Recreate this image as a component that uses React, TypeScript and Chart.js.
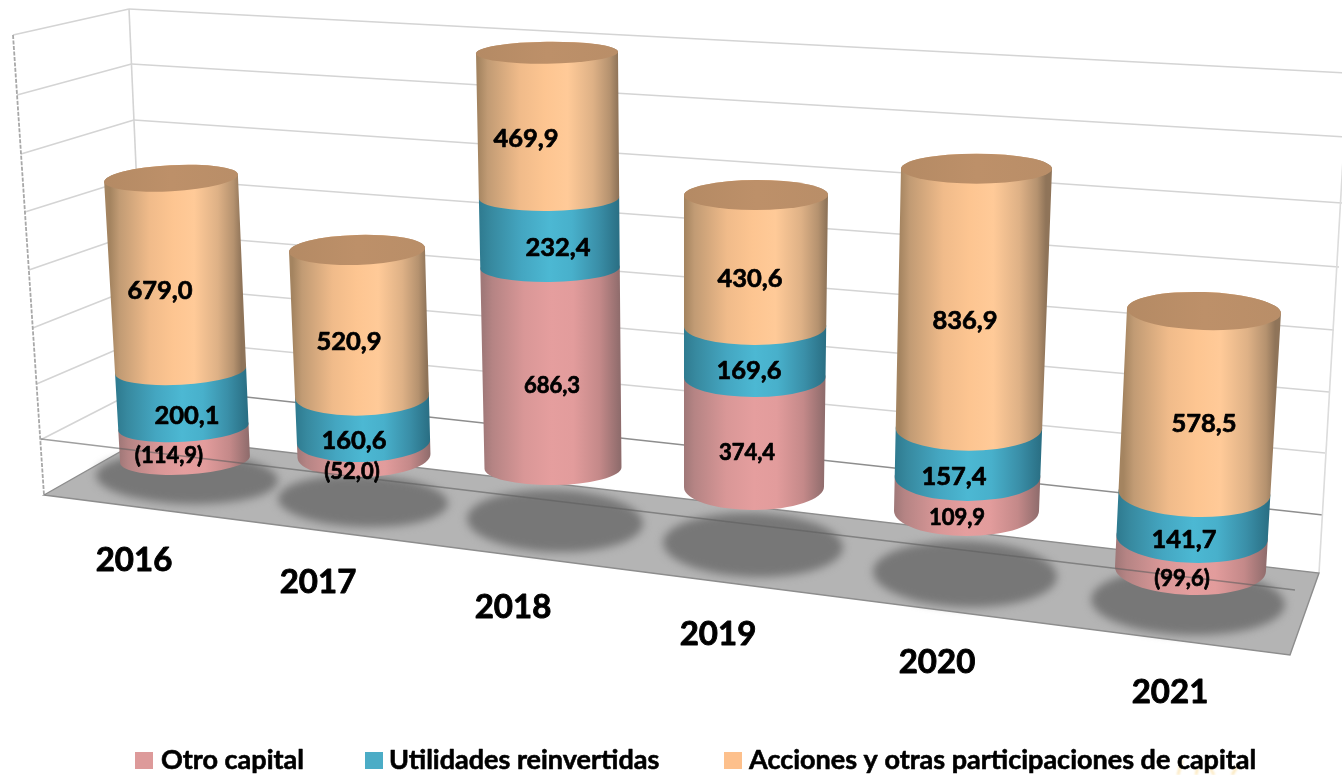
import React, { useEffect, useRef } from "react";
import { Chart, registerables } from "chart.js";

Chart.register(...registerables);

// ---- data ----
const YEARS = ["2016", "2017", "2018", "2019", "2020", "2021"];
const OTRO_CAPITAL = [-114.9, -52.0, 686.3, 374.4, 109.9, -99.6];
const UTILIDADES = [200.1, 160.6, 232.4, 169.6, 157.4, 141.7];
const ACCIONES = [679.0, 520.9, 469.9, 430.6, 836.9, 578.5];
const SERIES_NAMES = ["Otro capital", "Utilidades reinvertidas", "Acciones y otras participaciones de capital"];

// ---- style ----
const LEGEND_COLORS = ["#dd9a9a", "#4bacc6", "#fdc08c"];
const BODY_STOPS = [
  [[0, "#a07878"], [0.07, "#b58484"], [0.3, "#d99797"], [0.5, "#e59e9e"], [0.66, "#e29c9c"], [0.85, "#c48989"], [1, "#8f6c6c"]],
  [[0, "#2f7b90"], [0.08, "#37899f"], [0.3, "#44a6c1"], [0.5, "#4cb8d3"], [0.66, "#48b0cb"], [0.85, "#3a8fa8"], [1, "#2a6f84"]],
  [[0, "#a48460"], [0.07, "#c19b74"], [0.3, "#f0bb8a"], [0.48, "#fdc591"], [0.64, "#ffca98"], [0.82, "#deb186"], [0.94, "#b5926f"], [1, "#8f7459"]],
];
const FONT = "Lato";

// ---- 3D projection of each column: y = y0 - k*value - q*value^2, x = cx0 + lean*value ... ----
const PERSPECTIVE = [
  { y0: 427, k: 0.283, q: 0, cx0: 183.4, lean: -0.01408, hw0: 65.2, dhw: 0.00201, ry0: 14.8, dry: -0.00201, rot: -0.055 },
  { y0: 441.4, k: 0.281, q: 0, cx0: 363.5, lean: -0.00954, hw0: 66.6, dhw: 0.00204, ry0: 20.6, dry: -0.00818, rot: -0.03 },
  { y0: 468, k: 0.2841, q: 0.0000108, cx0: 553, lean: -0.00432, hw0: 68.5, dhw: 0.0018, ry0: 17, dry: -0.00432, rot: -0.012 },
  { y0: 487, k: 0.2898, q: 0.00001, cx0: 754, lean: 0.00205, hw0: 70, dhw: 0.00205, ry0: 23, dry: -0.00821, rot: -0.004 },
  { y0: 511, k: 0.31, q: 0, cx0: 966.5, lean: 0.00906, hw0: 72.5, dhw: 0.00272, ry0: 25, dry: -0.00906, rot: 0.0 },
  { y0: 537.7, k: 0.3147, q: 0, cx0: 1192.1, lean: 0.01647, hw0: 75.7, dhw: 0.00183, ry0: 25.1, dry: -0.00854, rot: 0.032 },
];
const SHADOWS = [
  [187, 478, 91, 26], [363, 501, 85, 26], [555, 521, 88, 31],
  [753, 545, 90, 32], [965, 574, 92, 33], [1188, 602, 97, 33],
];
const LABEL_POS = [
  [[169, 456], [352, 472], [552, 386], [747, 453], [957, 518], [1182, 579]],
  [[187, 416], [354, 441], [558, 248], [749, 371], [954, 477], [1184, 540]],
  [[160, 291], [349, 342], [526, 139], [750, 279], [965, 321], [1204, 424]],
];
const LABEL_SIZE = [22, 25.5, 25.5];
const YEAR_POS = [[134, 560], [318, 582], [513, 607], [718, 634], [937, 662], [1170, 692]];
const LEGEND_POS = [[135, 161], [365, 389], [724, 749]];

// wall geometry
const LEFT_Y = [35, 95, 154, 212, 270, 328, 384, 440];
const BACK_Y = [9, 64, 120, 177, 232, 285, 338, 386];
const RIGHT_PTS = [[1348, 73], [1345, 137], [1342, 203], [1339, 267], [1334, 330], [1329, 392], [1325, 453], [1323, 515]];
const FLOOR = [[44, 495], [148, 436], [1319, 573], [1290, 655]];
const ZERO_LINE = [[41, 439], [1295, 590]];

const leftX = (y: number) => 13 + (y - 35) * 0.0674;
const backX = (y: number) => 129 + (y - 9) * 0.0445;

function line(ctx: any, a: number[], b: number[], color: string, w: number) {
  ctx.strokeStyle = color;
  ctx.lineWidth = w;
  ctx.beginPath();
  ctx.moveTo(a[0], a[1]);
  ctx.lineTo(b[0], b[1]);
  ctx.stroke();
}

function drawRoom(ctx: any) {
  ctx.save();
  const light = "#d4d4d4";
  LEFT_Y.forEach((y, i) => line(ctx, [leftX(y), y], [backX(BACK_Y[i]), BACK_Y[i]], light, 1.6));
  ctx.setLineDash([4, 1.5]);
  line(ctx, [leftX(35), 35], [44, 495], "#a8a8a8", 1.8);
  ctx.setLineDash([]);
  line(ctx, [129, 9], [148, 436], light, 1.6);
  BACK_Y.forEach((y, i) => {
    line(ctx, [backX(y), y], RIGHT_PTS[i], i === 7 ? "#8e8e8e" : light, i === 7 ? 1.4 : 1.6);
  });
  line(ctx, RIGHT_PTS[0], FLOOR[2], "#dcdcdc", 1.6);
  ctx.beginPath();
  FLOOR.forEach((p, i) => (i ? ctx.lineTo(p[0], p[1]) : ctx.moveTo(p[0], p[1])));
  ctx.closePath();
  ctx.fillStyle = "#b4b4b4";
  ctx.fill();
  ctx.strokeStyle = "#8d8d8d";
  ctx.lineWidth = 1.4;
  ctx.stroke();
  ctx.filter = "blur(4px)";
  ctx.fillStyle = "#777777";
  SHADOWS.forEach((s) => {
    ctx.beginPath();
    ctx.ellipse(s[0], s[1], s[2], s[3], 0.03, 0, Math.PI * 2);
    ctx.fill();
  });
  ctx.restore();
}

function cylinderPoint(i: number, v: number) {
  const p = PERSPECTIVE[i];
  return {
    cx: p.cx0 + p.lean * v,
    cy: p.y0 - p.k * v - p.q * v * v,
    hw: p.hw0 + p.dhw * v,
    ry: p.ry0 + p.dry * v,
    rot: p.rot,
  };
}

function drawSegment(ctx: any, i: number, from: number, to: number, stops: any[]) {
  const b = cylinderPoint(i, from);
  const t = cylinderPoint(i, to);
  const g = ctx.createLinearGradient((b.cx + t.cx) / 2 - b.hw, 0, (b.cx + t.cx) / 2 + b.hw, 0);
  stops.forEach((s) => g.addColorStop(s[0], s[1]));
  ctx.fillStyle = g;
  ctx.beginPath();
  ctx.ellipse(b.cx, b.cy, b.hw, b.ry, b.rot, Math.PI, 0, true);
  ctx.ellipse(t.cx, t.cy, t.hw, t.ry, t.rot, 0, Math.PI, true);
  ctx.closePath();
  ctx.fill();
}

function formatValue(v: number) {
  const s = Math.abs(v).toFixed(1).replace(".", ",");
  return v < 0 ? `(${s})` : s;
}

function heavyText(ctx: any, text: string, x: number, y: number, w: number) {
  ctx.strokeStyle = "#000";
  ctx.lineWidth = w;
  ctx.lineJoin = "round";
  ctx.strokeText(text, x, y);
  ctx.fillText(text, x, y);
}

const cylinderPlugin = {
  id: "cylinders",
  beforeDatasetsDraw(chart: any) {
    drawRoom(chart.ctx);
  },
  beforeDatasetDraw() {
    return false; // the library's flat rectangles are replaced by the cylinders below
  },
  afterDatasetsDraw(chart: any) {
    const ctx = chart.ctx;
    const y = chart.scales.y;
    const metas = chart.data.datasets.map((_: any, d: number) => chart.getDatasetMeta(d));
    ctx.save();
    chart.data.labels.forEach((_: string, i: number) => {
      let top = 0;
      metas.forEach((meta: any, d: number) => {
        const el = meta.data[i];
        const a = y.getValueForPixel(el.base);
        const b = y.getValueForPixel(el.y);
        drawSegment(ctx, i, Math.min(a, b), Math.max(a, b), BODY_STOPS[d]);
        top = Math.max(top, a, b);
      });
      const c = cylinderPoint(i, top);
      const g = ctx.createLinearGradient(c.cx - c.hw, 0, c.cx + c.hw, 0);
      g.addColorStop(0, "#b48a64");
      g.addColorStop(0.5, "#bd9069");
      g.addColorStop(1, "#b98e68");
      ctx.fillStyle = g;
      ctx.beginPath();
      ctx.ellipse(c.cx, c.cy, c.hw, c.ry, c.rot, 0, Math.PI * 2);
      ctx.fill();
    });
    // zero line of the front plane, seen through the columns that go below it
    line(ctx, ZERO_LINE[0], ZERO_LINE[1], "rgba(95,95,95,0.6)", 1.4);

    // value labels
    ctx.fillStyle = "#000";
    ctx.textAlign = "center";
    ctx.textBaseline = "middle";
    chart.data.datasets.forEach((ds: any, d: number) => {
      ctx.font = `bold ${LABEL_SIZE[d]}px ${FONT}`;
      ds.data.forEach((v: number, i: number) => {
        heavyText(ctx, formatValue(v), LABEL_POS[d][i][0], LABEL_POS[d][i][1], 0.7);
      });
    });
    // year labels from the category scale
    ctx.font = `bold 33px ${FONT}`;
    chart.scales.x.ticks.forEach((t: any, i: number) => {
      heavyText(ctx, chart.scales.x.getLabelForValue(t.value), YEAR_POS[i][0], YEAR_POS[i][1], 0.9);
    });
    // faint stray marks behind the last legend entry
    ctx.save();
    ctx.filter = "blur(1px)";
    ctx.strokeStyle = "rgba(248,215,140,0.6)";
    ctx.lineWidth = 2.5;
    [[1178, 775, 1182, 760], [1196, 775, 1198, 766], [1214, 775, 1210, 768], [1232, 775, 1238, 765]].forEach((s) => {
      ctx.beginPath();
      ctx.moveTo(s[0], s[1]);
      ctx.lineTo(s[2], s[3]);
      ctx.stroke();
    });
    ctx.restore();
    // legend
    ctx.textAlign = "left";
    ctx.font = `bold 27px ${FONT}`;
    chart.data.datasets.forEach((ds: any, d: number) => {
      ctx.fillStyle = ds.backgroundColor;
      ctx.fillRect(LEGEND_POS[d][0], 752, 18, 17);
      ctx.fillStyle = "#000";
      heavyText(ctx, ds.label, LEGEND_POS[d][1], 760, 0.6);
    });
    ctx.restore();
  },
};

export default function App() {
  const ref = useRef<HTMLCanvasElement>(null);
  useEffect(() => {
    document.body.style.margin = "0";
    document.body.style.background = "#fff";
    const chart = new Chart(ref.current as HTMLCanvasElement, {
      type: "bar",
      data: {
        labels: YEARS,
        datasets: [
          { label: SERIES_NAMES[0], data: OTRO_CAPITAL, backgroundColor: LEGEND_COLORS[0] },
          { label: SERIES_NAMES[1], data: UTILIDADES, backgroundColor: LEGEND_COLORS[1] },
          { label: SERIES_NAMES[2], data: ACCIONES, backgroundColor: LEGEND_COLORS[2] },
        ],
      },
      options: {
        animation: false,
        responsive: false,
        plugins: { legend: { display: false }, tooltip: { enabled: false } },
        scales: {
          x: { stacked: true, display: false },
          y: { stacked: true, display: false, min: -200, max: 1600 },
        },
      },
      plugins: [cylinderPlugin],
    } as any);
    return () => chart.destroy();
  }, []);
  return (
    <div style={{ width: 1342, height: 775, overflow: "hidden", background: "#fff" }}>
      <canvas ref={ref} width={1342} height={775} style={{ display: "block" }} />
    </div>
  );
}
